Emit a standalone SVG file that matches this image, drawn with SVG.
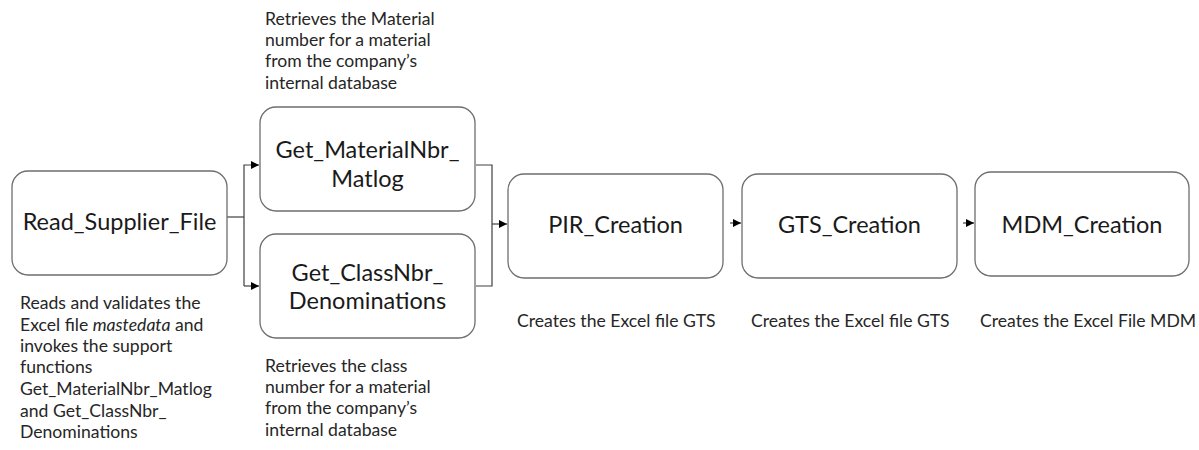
<svg xmlns="http://www.w3.org/2000/svg" width="1199" height="450" viewBox="0 0 1199 450">
<style>
.box{fill:#fff;stroke:#6e6e6e;stroke-width:1.3}
.nt{font-family:Lato,"Open Sans",sans-serif;font-size:23.5px;fill:#1a1a1a;text-anchor:middle}
.dt{font-family:Lato,"Open Sans",sans-serif;font-size:17.6px;fill:#262626}
.cn{fill:none;stroke:#404040;stroke-width:1.2}
</style>
<defs>
<marker id="ah" viewBox="0 0 10 10" refX="10" refY="5" markerWidth="8" markerHeight="8" markerUnits="userSpaceOnUse" orient="auto">
<path d="M0,0 L10,5 L0,10 z" fill="#000"/>
</marker>
</defs>
<rect width="1199" height="450" fill="#fff"/>
<g id="connectors">
<path class="cn" d="M227,217 H244"/>
<path class="cn" d="M244,286 V165 H259" marker-end="url(#ah)"/>
<path class="cn" d="M244,286 H259" marker-end="url(#ah)"/>
<path class="cn" d="M476,165 H492 V286 H476"/>
<path class="cn" d="M492,224 H507" marker-end="url(#ah)"/>
<path class="cn" d="M730,223 H741" marker-end="url(#ah)"/>
<path class="cn" d="M963,223 H974" marker-end="url(#ah)"/>
</g>
<g id="read_supplier_file">
<rect class="box" x="12" y="171" width="215" height="104" rx="16"/>
<text class="nt" x="119.5" y="230">Read_Supplier_File</text>
<text class="dt" x="20"><tspan x="20" y="309">Reads and validates the</tspan><tspan x="20" y="331">Excel file <tspan font-style="italic">mastedata</tspan> and</tspan><tspan x="20" y="352">invokes the support</tspan><tspan x="20" y="373">functions</tspan><tspan x="20" y="395">Get_MaterialNbr_Matlog</tspan><tspan x="20" y="417">and Get_ClassNbr_</tspan><tspan x="20" y="438">Denominations</tspan></text>
</g>
<g id="get_materialnbr_matlog">
<rect class="box" x="260" y="107" width="215" height="104" rx="16"/>
<text class="nt" x="367.5" y="158">Get_MaterialNbr_</text>
<text class="nt" x="367.5" y="187">Matlog</text>
<text class="dt"><tspan x="265" y="25">Retrieves the Material</tspan><tspan x="265" y="46">number for a material</tspan><tspan x="265" y="67">from the company’s</tspan><tspan x="265" y="89">internal database</tspan></text>
</g>
<g id="get_classnbr_denominations">
<rect class="box" x="260" y="234" width="215" height="104" rx="16"/>
<text class="nt" x="367.5" y="281">Get_ClassNbr_</text>
<text class="nt" x="367.5" y="309">Denominations</text>
<text class="dt"><tspan x="265" y="372">Retrieves the class</tspan><tspan x="265" y="393">number for a material</tspan><tspan x="265" y="414">from the company’s</tspan><tspan x="265" y="436">internal database</tspan></text>
</g>
<g id="pir_creation">
<rect class="box" x="508" y="174" width="215" height="104" rx="16"/>
<text class="nt" x="615.5" y="233">PIR_Creation</text>
<text class="dt" x="517" y="327">Creates the Excel file GTS</text>
</g>
<g id="gts_creation">
<rect class="box" x="742" y="174" width="215" height="104" rx="16"/>
<text class="nt" x="849.5" y="233">GTS_Creation</text>
<text class="dt" x="751" y="327">Creates the Excel file GTS</text>
</g>
<g id="mdm_creation">
<rect class="box" x="975" y="172" width="214" height="104" rx="16"/>
<text class="nt" x="1082" y="233">MDM_Creation</text>
<text class="dt" x="980" y="327">Creates the Excel File MDM</text>
</g>
</svg>
